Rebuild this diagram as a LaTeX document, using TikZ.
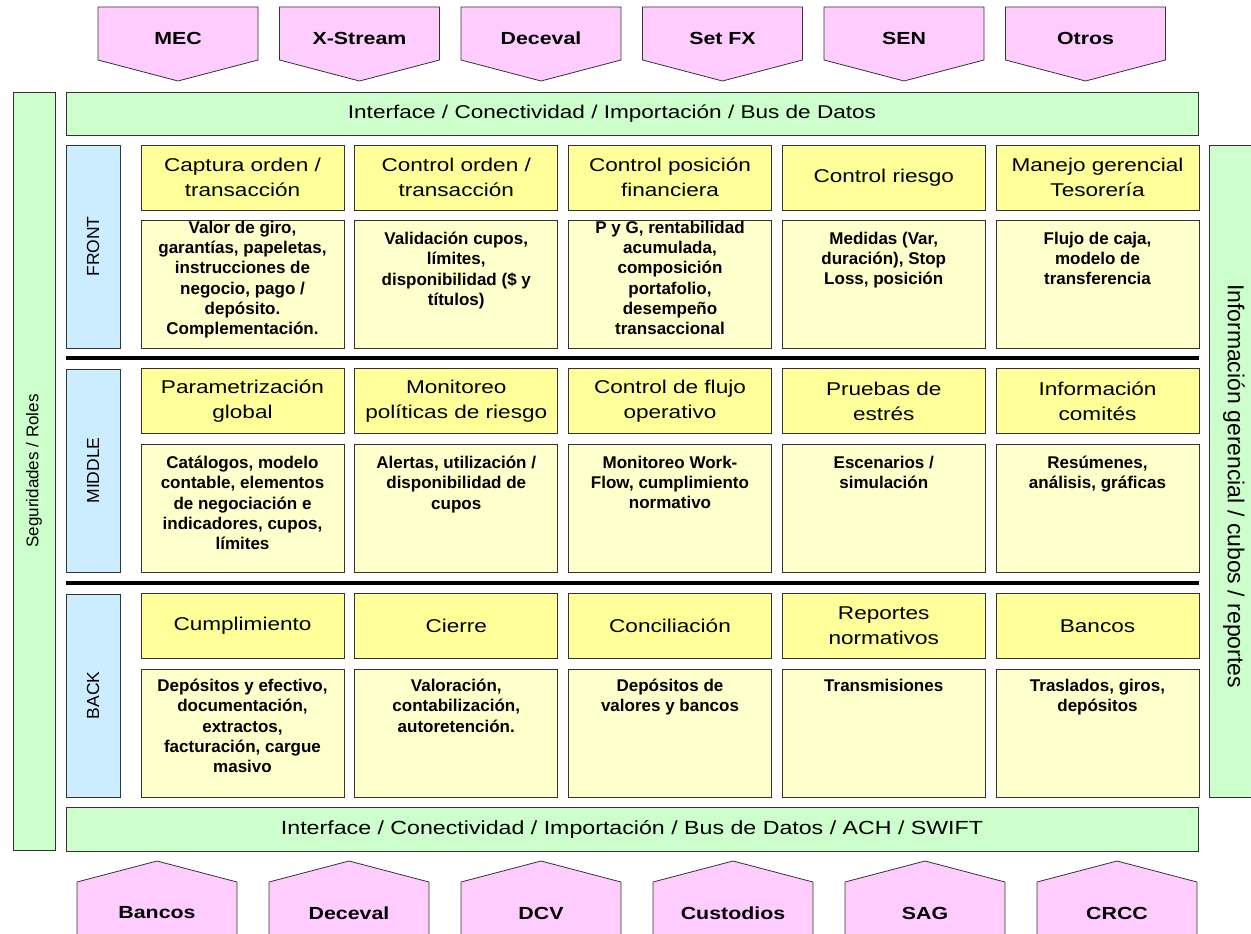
\documentclass[tikz,border=0pt]{standalone}
\usepackage{fontspec}
\setmainfont{Liberation Sans}
\newfontfamily\ancha[FakeStretch=1.22]{Liberation Sans}
\definecolor{rosa}{HTML}{FFCCFF}
\definecolor{verde}{HTML}{CCFFCC}
\definecolor{celeste}{HTML}{CCECFF}
\definecolor{amarillo}{HTML}{FFFF99}
\definecolor{crema}{HTML}{FFFFCC}
\definecolor{borde}{HTML}{333333}
\newcommand{\detalle}[2][0pt]{\parbox[t][104pt][t]{200pt}{\centering\vspace*{#1}#2}}
\begin{document}
\begin{tikzpicture}[x=1pt, y=-1pt,
    fuente/.style={draw=borde, fill=rosa, line width=0.8pt},
    rotulo/.style={font=\ancha\bfseries\fontsize{17.5}{21}\selectfont},
    bus/.style={draw=borde, fill=verde, line width=0.8pt, minimum width=1132pt, minimum height=43pt, font=\ancha\fontsize{18.5}{22}\selectfont},
    lateral/.style={draw=borde, fill=verde, line width=0.8pt, inner sep=0pt},
    capa/.style={draw=borde, fill=celeste, line width=0.8pt, rotate=90, minimum width=203pt, minimum height=54pt, inner sep=0pt, font=\fontsize{17.5}{20}\selectfont},
    titulo/.style={draw=borde, fill=amarillo, line width=0.8pt, minimum width=203pt, minimum height=65pt, inner sep=0pt, align=center, font=\ancha\fontsize{18.5}{25}\selectfont},
    detalle/.style={draw=borde, fill=crema, line width=0.8pt, minimum width=203pt, minimum height=128pt, inner sep=0pt, font=\bfseries\fontsize{17}{20.3}\selectfont},
    separador/.style={line width=4pt}]
    \useasboundingbox (0,0) rectangle (1251,934);

    % Fuentes de entrada
    \draw[fuente] (98,7) -- (258,7) -- (258,60) -- (178,81) -- (98,60) -- cycle;
    \node[rotulo] (mec) at (178,38) {MEC};
    \draw[fuente] (279.5,7) -- (439.5,7) -- (439.5,60) -- (359.5,81) -- (279.5,60) -- cycle;
    \node[rotulo] (xstream) at (359.5,38) {X-Stream};
    \draw[fuente] (461,7) -- (621,7) -- (621,60) -- (541,81) -- (461,60) -- cycle;
    \node[rotulo] (deceval) at (541,38) {Deceval};
    \draw[fuente] (642.5,7) -- (802.5,7) -- (802.5,60) -- (722.5,81) -- (642.5,60) -- cycle;
    \node[rotulo] (setfx) at (722.5,38) {Set FX};
    \draw[fuente] (824,7) -- (984,7) -- (984,60) -- (904,81) -- (824,60) -- cycle;
    \node[rotulo] (sen) at (904,38) {SEN};
    \draw[fuente] (1005.5,7) -- (1165.5,7) -- (1165.5,60) -- (1085.5,81) -- (1005.5,60) -- cycle;
    \node[rotulo] (otros) at (1085.5,38) {Otros};

    % Barras
    \node[bus] (bussup) at (632,113.5) {\hspace*{-40pt}Interface / Conectividad / Importación / Bus de Datos};
    \node[bus, minimum height=44pt, font=\ancha\fontsize{19}{22}\selectfont] (businf) at (632,829) {Interface / Conectividad / Importación / Bus de Datos / ACH / SWIFT};
    \node[lateral, rotate=90, minimum width=758pt, minimum height=42pt, font=\fontsize{17}{20}\selectfont] (seguridad) at (34,471) {Seguridades / Roles};
    \node[lateral, rotate=-90, minimum width=652pt, minimum height=50pt, font=\fontsize{23}{26}\selectfont] (informacion) at (1234,471) {\hspace*{30pt}Información gerencial / cubos / reportes};

    % Capas
    \node[capa] (front) at (93,246.5) {FRONT};
    \node[capa] (middle) at (93,470.5) {MIDDLE};
    \node[capa] (back) at (93,695.5) {BACK};
    \draw[separador] (66,358) -- (1199,358);
    \draw[separador] (66,583) -- (1199,583);

    % Front
    \node[titulo] (captura) at (242.5,177.5) {Captura orden /\\transacción};
    \node[titulo] (ctrlorden) at (456.25,177.5) {Control orden /\\transacción};
    \node[titulo] (ctrlpos) at (670,177.5) {Control posición\\financiera};
    \node[titulo] (ctrlriesgo) at (883.75,177.5) {Control riesgo};
    \node[titulo] (manejo) at (1097.5,177.5) {Manejo gerencial\\Tesorería};
    \node[detalle] (capturadet) at (242.5,284) {\detalle[-11pt]{Valor de giro,\\garantías, papeletas,\\instrucciones de\\negocio, pago /\\depósito.\\Complementación.}};
    \node[detalle] (ctrlordendet) at (456.25,284) {\detalle{Validación cupos,\\límites,\\disponibilidad (\$ y\\títulos)}};
    \node[detalle] (ctrlposdet) at (670,284) {\detalle[-11pt]{P y G, rentabilidad\\acumulada,\\composición\\portafolio,\\desempeño\\transaccional}};
    \node[detalle] (ctrlriesgodet) at (883.75,284) {\detalle{Medidas (Var,\\duración), Stop\\Loss, posición}};
    \node[detalle] (manejodet) at (1097.5,284) {\detalle{Flujo de caja,\\modelo de\\transferencia}};

    % Middle
    \node[titulo] (parametrizacion) at (242.5,401) {Parametrización\\global};
    \node[titulo] (monitoreo) at (456.25,401) {Monitoreo\\políticas de riesgo};
    \node[titulo] (flujo) at (670,401) {Control de flujo\\operativo};
    \node[titulo] (estres) at (883.75,401) {Pruebas de\\estrés};
    \node[titulo] (comites) at (1097.5,401) {Información\\comités};
    \node[detalle] (parametrizaciondet) at (242.5,508) {\detalle{Catálogos, modelo\\contable, elementos\\de negociación e\\indicadores, cupos,\\límites}};
    \node[detalle] (monitoreodet) at (456.25,508) {\detalle{Alertas, utilización /\\disponibilidad de\\cupos}};
    \node[detalle] (flujodet) at (670,508) {\detalle{Monitoreo Work-\\Flow, cumplimiento\\normativo}};
    \node[detalle] (estresdet) at (883.75,508) {\detalle{Escenarios /\\simulación}};
    \node[detalle] (comitesdet) at (1097.5,508) {\detalle{Resúmenes,\\análisis, gráficas}};

    % Back
    \node[titulo] (cumplimiento) at (242.5,626) {Cumplimiento};
    \node[titulo] (cierre) at (456.25,626) {Cierre};
    \node[titulo] (conciliacion) at (670,626) {Conciliación};
    \node[titulo] (reportes) at (883.75,626) {Reportes\\normativos};
    \node[titulo] (bancosb) at (1097.5,626) {Bancos};
    \node[detalle] (cumplimientodet) at (242.5,733) {\detalle[-2pt]{Depósitos y efectivo,\\documentación,\\extractos,\\facturación, cargue\\masivo}};
    \node[detalle] (cierredet) at (456.25,733) {\detalle[-2pt]{Valoración,\\contabilización,\\autoretención.}};
    \node[detalle] (conciliaciondet) at (670,733) {\detalle[-2pt]{Depósitos de\\valores y bancos}};
    \node[detalle] (reportesdet) at (883.75,733) {\detalle[-2pt]{Transmisiones}};
    \node[detalle] (bancosbdet) at (1097.5,733) {\detalle[-2pt]{Traslados, giros,\\depósitos}};

    % Destinos
    \draw[fuente] (77,945) -- (77,882) -- (157,861) -- (237,882) -- (237,945) -- cycle;
    \node[rotulo] (bancos) at (157,913) {Bancos};
    \draw[fuente] (269,945) -- (269,882) -- (349,861) -- (429,882) -- (429,945) -- cycle;
    \node[rotulo] (decevalb) at (349,913) {Deceval};
    \draw[fuente] (461,945) -- (461,882) -- (541,861) -- (621,882) -- (621,945) -- cycle;
    \node[rotulo] (dcv) at (541,913) {DCV};
    \draw[fuente] (653,945) -- (653,882) -- (733,861) -- (813,882) -- (813,945) -- cycle;
    \node[rotulo] (custodios) at (733,913) {Custodios};
    \draw[fuente] (845,945) -- (845,882) -- (925,861) -- (1005,882) -- (1005,945) -- cycle;
    \node[rotulo] (sag) at (925,913) {SAG};
    \draw[fuente] (1037,945) -- (1037,882) -- (1117,861) -- (1197,882) -- (1197,945) -- cycle;
    \node[rotulo] (crcc) at (1117,913) {CRCC};
\end{tikzpicture}
\end{document}
